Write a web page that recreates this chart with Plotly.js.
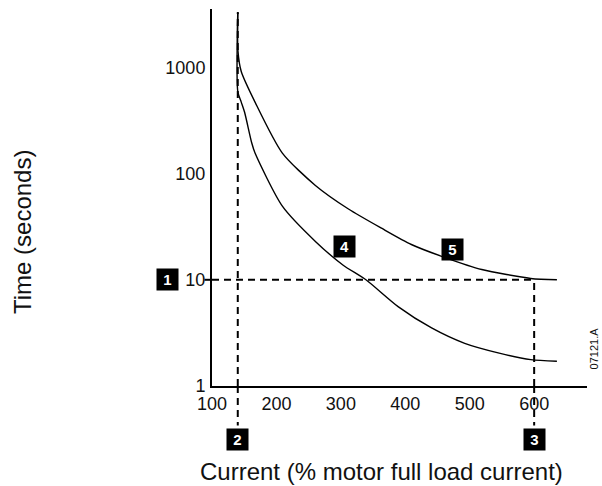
<!DOCTYPE html>
<html>
<head>
<meta charset="utf-8">
<script src="https://cdn.plot.ly/plotly-3.0.1.min.js"></script>
<style>html,body{margin:0;padding:0;background:#fff;}#chart{width:602px;height:486px;}</style>
</head>
<body>
<div id="chart"></div>
<script>
// ---- data ----
const xTickVals = [100, 200, 300, 400, 500, 600];
const yTickVals = [1, 10, 100, 1000];
const yTickText = ["1", "10", "100", "1000"];

// curve 4 (lower, steeper)
const curve4X = [140, 140.1, 145.4, 150.6, 161.7, 166.8, 209.2, 260.5, 303.1, 338.9, 388.8, 440.8, 492.2, 544.1, 594.7, 635.3];
const curve4Y = [3300, 588, 471, 378, 194, 156, 49.4, 23, 13.8, 10, 5.59, 3.52, 2.52, 2.05, 1.77, 1.71];

// curve 5 (upper)
const curve5X = [140, 140.3, 145.4, 166.8, 209.2, 260.5, 311.8, 363.1, 409.4, 461.7, 518.7, 594.7, 635.3];
const curve5Y = [3300, 1425, 915, 471, 156, 77.4, 46.4, 30.6, 21.5, 16.2, 12.5, 10.3, 10];

// reference settings marked on the chart
const tripTime = 10;        // marker 1
const minCurrent = 140;     // marker 2
const maxCurrent = 600;     // marker 3
const curveTopY = 3300;

const FONT = "Liberation Sans, Arial, Helvetica, sans-serif";
const dash = "7px,5px";
const dashLine = {color: "#000", width: 2, dash: dash};

const traces = [
  {x: curve4X, y: curve4Y, mode: "lines", line: {color: "#000", width: 1.4, shape: "spline", smoothing: 0.7}, hoverinfo: "skip"},
  {x: curve5X, y: curve5Y, mode: "lines", line: {color: "#000", width: 1.4, shape: "spline", smoothing: 0.7}, hoverinfo: "skip"}
];

const shapes = [
  // horizontal dashed at trip time
  {type: "line", xref: "x", yref: "y", x0: 100, x1: maxCurrent, y0: tripTime, y1: tripTime, line: dashLine, layer: "below"},
  {type: "line", xref: "paper", yref: "y", x0: -0.02, x1: 0, y0: tripTime, y1: tripTime, line: {color: "#000", width: 2}},
  // vertical dashed at minimum current
  {type: "line", xref: "x", yref: "y", x0: minCurrent, x1: minCurrent, y0: 1, y1: curveTopY, line: dashLine, layer: "below"},
  {type: "line", xref: "x", yref: "paper", x0: minCurrent, x1: minCurrent, y0: 0, y1: -0.105, line: dashLine},
  // vertical dashed at maximum current
  {type: "line", xref: "x", yref: "y", x0: maxCurrent, x1: maxCurrent, y0: 1, y1: tripTime, line: dashLine, layer: "below"},
  {type: "line", xref: "x", yref: "paper", x0: maxCurrent, x1: maxCurrent, y0: 0, y1: -0.105, line: dashLine}
];

function tag(txt, x, y, xref, yref) {
  return {text: "<b>" + txt + "</b>", x: x, y: y, xref: xref, yref: yref, showarrow: false,
    bgcolor: "#000", font: {family: FONT, size: 15, color: "#fff"}, width: 17, height: 17, borderpad: 2,
    xanchor: "center", yanchor: "middle"};
}

const annotations = [
  tag("1", -0.12, Math.log10(tripTime), "paper", "y"),
  tag("2", minCurrent, -0.1406, "x", "paper"),
  tag("3", maxCurrent, -0.1406, "x", "paper"),
  tag("4", 305, Math.log10(20.5), "x", "y"),
  tag("5", 474, Math.log10(19.5), "x", "y"),
  {text: "Current (% motor full load current)", x: 0.451, y: -0.226, xref: "paper", yref: "paper", showarrow: false,
    xanchor: "center", yanchor: "middle", font: {family: FONT, size: 24, color: "#111"}},
  {text: "Time (seconds)", x: -0.507, y: 0.408, xref: "paper", yref: "paper", showarrow: false, textangle: -90,
    xanchor: "center", yanchor: "middle", font: {family: FONT, size: 24, color: "#111"}},
  {text: "07121.A", x: 1.019, y: 0.1, xref: "paper", yref: "paper", showarrow: false, textangle: -90,
    xanchor: "center", yanchor: "middle", font: {family: FONT, size: 11, color: "#111"}}
];

const layout = {
  width: 602, height: 486,
  margin: {l: 212, r: 15, t: 9, b: 100, pad: 0},
  paper_bgcolor: "#fff", plot_bgcolor: "#fff",
  showlegend: false,
  font: {family: FONT, color: "#111"},
  xaxis: {range: [100, 682], tickvals: xTickVals, ticks: "",
    showgrid: false, zeroline: false, showline: true, linecolor: "#000", linewidth: 2,
    tickfont: {family: FONT, size: 18, color: "#111"}, fixedrange: true},
  yaxis: {type: "log", range: [0, 3.55], tickvals: yTickVals, ticktext: yTickText, ticks: "outside", ticklen: 1, tickcolor: "rgba(0,0,0,0)",
    showgrid: false, zeroline: false, showline: true, linecolor: "#000", linewidth: 2,
    tickfont: {family: FONT, size: 18, color: "#111"}, fixedrange: true},
  shapes: shapes,
  annotations: annotations
};

Plotly.newPlot("chart", traces, layout, {displayModeBar: false, staticPlot: true});
</script>
</body>
</html>
